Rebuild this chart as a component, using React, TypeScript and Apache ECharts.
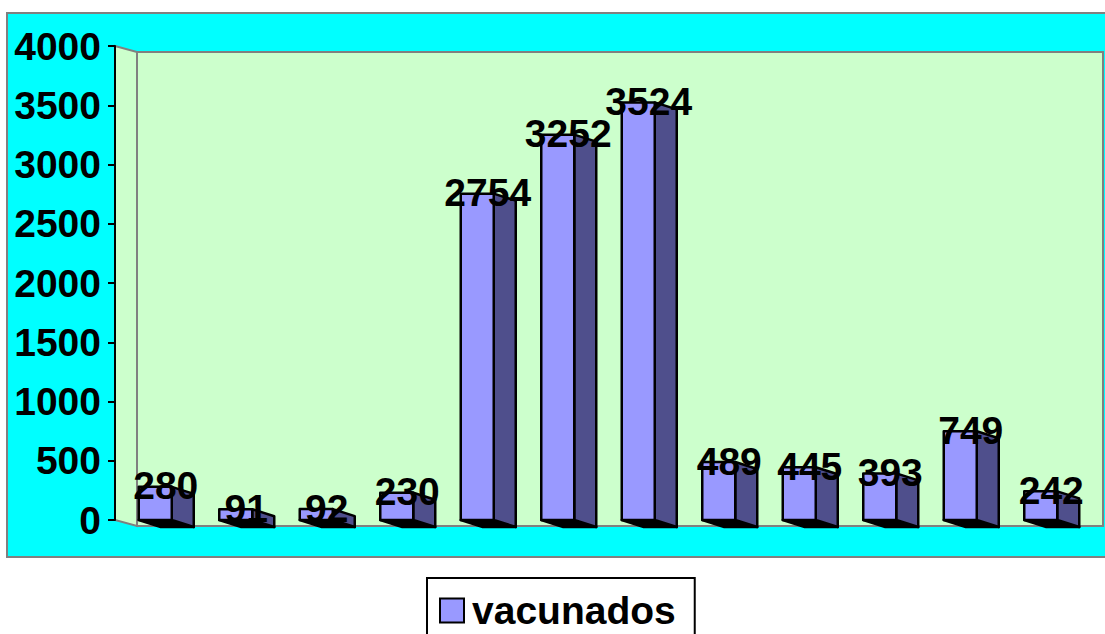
import React, { useEffect, useRef } from "react";
import * as echarts from "echarts";

const categories = ["1", "2", "3", "4", "5", "6", "7", "8", "9", "10", "11", "12"];
const vacunados = [280, 91, 92, 230, 2754, 3252, 3524, 489, 445, 393, 749, 242];
const seriesName = "vacunados";

const FONT = '"Liberation Sans", Arial, sans-serif';
const BAR_W = 33;
const DX = 22;
const DY = 7;

function renderBar(params: any, api: any) {
  const i = api.value(0);
  const v = api.value(1);
  const top = api.coord([i, v]);
  const base = api.coord([i, 0]);
  const x0 = top[0] - BAR_W / 2;
  const x1 = x0 + BAR_W;
  const yT = top[1];
  const yB = base[1];
  const stroke = { stroke: "#000", lineWidth: 2.5, lineJoin: "round" };
  return {
    type: "group",
    children: [
      {
        type: "polygon",
        shape: { points: [[x0, yB], [x1, yB], [x1 + DX, yB + DY], [x0 + DX, yB + DY]] },
        style: { fill: "#000", ...stroke },
      },
      {
        type: "polygon",
        shape: { points: [[x1, yT], [x1 + DX, yT + DY], [x1 + DX, yB + DY], [x1, yB]] },
        style: { fill: "#4F4F8C", ...stroke },
      },
      {
        type: "rect",
        shape: { x: x0, y: yT, width: BAR_W, height: yB - yT },
        style: { fill: "#9999FF", ...stroke },
      },
      {
        type: "text",
        z2: 10,
        style: {
          x: x0 + (BAR_W + DX) / 2 - 0.5,
          y: yT - 1,
          text: String(v),
          fill: "#000",
          font: `bold 39px ${FONT}`,
          align: "center",
          verticalAlign: "middle",
        },
      },
    ],
  };
}

export default function App() {
  const ref = useRef<HTMLDivElement>(null);
  useEffect(() => {
    const chart = echarts.init(ref.current!, null, { renderer: "svg" });
    chart.setOption({
      animation: false,
      backgroundColor: "#fff",
      textStyle: { fontFamily: FONT },
      graphic: [
        {
          type: "rect",
          z: -10,
          shape: { x: 7, y: 13, width: 1110, height: 544 },
          style: { fill: "#00FFFF", stroke: "#808080", lineWidth: 2 },
        },
        {
          type: "polygon",
          z: -9,
          shape: { points: [[115, 46], [137, 52], [137, 526], [115, 520]] },
          style: { fill: "#CCFFCC", stroke: "#808080", lineWidth: 2 },
        },
        {
          type: "rect",
          z: -9,
          shape: { x: 137, y: 52, width: 966, height: 474 },
          style: { fill: "#CCFFCC", stroke: "#808080", lineWidth: 2 },
        },
      ],
      grid: { left: 115, top: 46, width: 966, height: 474, containLabel: false },
      legend: {
        show: true,
        left: 427,
        top: 578,
        padding: [13, 19, 15, 12],
        backgroundColor: "#fff",
        borderColor: "#000",
        borderWidth: 2,
        borderRadius: 0,
        icon: "rect",
        itemWidth: 24,
        itemHeight: 24,
        itemGap: 0,
        data: [
          {
            name: seriesName,
            itemStyle: { color: "#9999FF", borderColor: "#000", borderWidth: 2 },
          },
        ],
        textStyle: {
          fontFamily: FONT,
          fontWeight: "bold",
          fontSize: 39,
          color: "#000",
          padding: [0, 0, 0, 3],
        },
      },
      xAxis: { type: "category", data: categories, show: false },
      yAxis: {
        type: "value",
        min: 0,
        max: 4000,
        interval: 500,
        axisLine: { show: true, lineStyle: { color: "#000", width: 2 } },
        axisTick: { show: true, length: 7, lineStyle: { color: "#000", width: 2 } },
        splitLine: { show: false },
        axisLabel: {
          margin: 14,
          color: "#000",
          fontFamily: FONT,
          fontWeight: "bold",
          fontSize: 39,
          formatter: (v: number) => String(v),
        },
      },
      series: [
        {
          name: seriesName,
          type: "custom",
          renderItem: renderBar,
          itemStyle: { color: "#9999FF" },
          encode: { x: 0, y: 1 },
          data: vacunados.map((v, i) => [i, v]),
          clip: false,
          z: 5,
        },
      ],
    });
    return () => chart.dispose();
  }, []);
  return <div ref={ref} style={{ position: "absolute", left: 0, top: 0, width: 1105, height: 634 }} />;
}
